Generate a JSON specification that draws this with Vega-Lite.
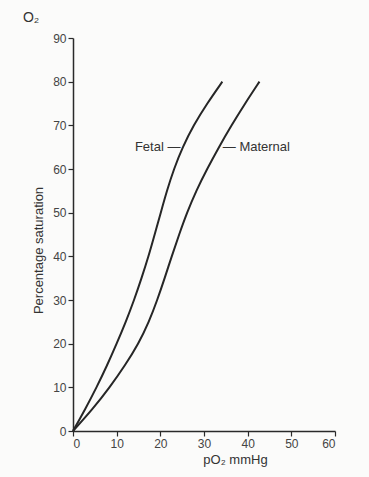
{
  "$schema": "https://vega.github.io/schema/vega-lite/v6.json",
  "autosize": "none",
  "width": 262,
  "height": 393,
  "padding": {"left": 73, "top": 38, "right": 34, "bottom": 46},
  "background": "#fbfbfa",
  "config": {
    "view": {"stroke": null},
    "axis": {
      "grid": false,
      "domainColor": "#2a2a2a",
      "domainWidth": 1.5,
      "tickColor": "#2a2a2a",
      "tickWidth": 1.2,
      "tickSize": 5,
      "labelFont": "Liberation Sans",
      "labelFontSize": 12,
      "labelColor": "#444444",
      "labelPadding": 2,
      "titleFont": "Liberation Sans",
      "titleFontSize": 13,
      "titleFontWeight": "normal",
      "titleColor": "#333333"
    }
  },
  "datasets": {
    "curves": [
      {"curve": "Fetal", "po2": 0, "sat": 0},
      {"curve": "Fetal", "po2": 2.8, "sat": 5},
      {"curve": "Fetal", "po2": 5.4, "sat": 10},
      {"curve": "Fetal", "po2": 7.8, "sat": 15},
      {"curve": "Fetal", "po2": 10.0, "sat": 20},
      {"curve": "Fetal", "po2": 12.1, "sat": 25},
      {"curve": "Fetal", "po2": 14.0, "sat": 30},
      {"curve": "Fetal", "po2": 15.7, "sat": 35},
      {"curve": "Fetal", "po2": 17.3, "sat": 40},
      {"curve": "Fetal", "po2": 18.7, "sat": 45},
      {"curve": "Fetal", "po2": 20.1, "sat": 50},
      {"curve": "Fetal", "po2": 21.5, "sat": 55},
      {"curve": "Fetal", "po2": 23.1, "sat": 60},
      {"curve": "Fetal", "po2": 25.1, "sat": 65},
      {"curve": "Fetal", "po2": 27.6, "sat": 70},
      {"curve": "Fetal", "po2": 30.7, "sat": 75},
      {"curve": "Fetal", "po2": 34.2, "sat": 80},
      {"curve": "Maternal", "po2": 0, "sat": 0},
      {"curve": "Maternal", "po2": 4.5, "sat": 5},
      {"curve": "Maternal", "po2": 8.4, "sat": 10},
      {"curve": "Maternal", "po2": 11.9, "sat": 15},
      {"curve": "Maternal", "po2": 15.0, "sat": 20},
      {"curve": "Maternal", "po2": 17.4, "sat": 25},
      {"curve": "Maternal", "po2": 19.3, "sat": 30},
      {"curve": "Maternal", "po2": 21.0, "sat": 35},
      {"curve": "Maternal", "po2": 22.6, "sat": 40},
      {"curve": "Maternal", "po2": 24.3, "sat": 45},
      {"curve": "Maternal", "po2": 26.1, "sat": 50},
      {"curve": "Maternal", "po2": 28.2, "sat": 55},
      {"curve": "Maternal", "po2": 30.7, "sat": 60},
      {"curve": "Maternal", "po2": 33.4, "sat": 65},
      {"curve": "Maternal", "po2": 36.3, "sat": 70},
      {"curve": "Maternal", "po2": 39.4, "sat": 75},
      {"curve": "Maternal", "po2": 42.7, "sat": 80}
    ],
    "labels": [
      {"label": "Fetal —", "po2": 24.6, "sat": 65, "side": "right"},
      {"label": "— Maternal", "po2": 34.3, "sat": 65, "side": "left"},
      {"label": "O₂", "po2": -9.6, "sat": 94.6, "side": "center"}
    ]
  },
  "layer": [
    {
      "data": {"name": "curves"},
      "mark": {"type": "line", "interpolate": "basis", "color": "#262626", "strokeWidth": 2},
      "encoding": {
        "x": {
          "field": "po2",
          "type": "quantitative",
          "scale": {"domain": [0, 60], "nice": false},
          "axis": {
            "values": [0, 10, 20, 30, 40, 50, 60],
            "title": "pO₂  mmHg",
            "titleX": 162,
            "titleY": 28,
            "titleAnchor": "middle",
            "titleAlign": "center",
            "titleBaseline": "middle"
          }
        },
        "y": {
          "field": "sat",
          "type": "quantitative",
          "scale": {"domain": [0, 90], "nice": false},
          "axis": {
            "values": [0, 10, 20, 30, 40, 50, 60, 70, 80, 90],
            "title": "Percentage saturation",
            "titleX": -35,
            "titleY": 212,
            "titleAngle": -90,
            "titleAlign": "center",
            "titleBaseline": "middle"
          }
        },
        "detail": {"field": "curve"}
      }
    },
    {
      "data": {"name": "labels"},
      "transform": [{"filter": "datum.side === 'right'"}],
      "mark": {"type": "text", "align": "right", "baseline": "middle", "font": "Liberation Sans", "fontSize": 13, "color": "#333333"},
      "encoding": {
        "x": {"field": "po2", "type": "quantitative"},
        "y": {"field": "sat", "type": "quantitative"},
        "text": {"field": "label"}
      }
    },
    {
      "data": {"name": "labels"},
      "transform": [{"filter": "datum.side === 'left'"}],
      "mark": {"type": "text", "align": "left", "baseline": "middle", "font": "Liberation Sans", "fontSize": 13, "color": "#333333"},
      "encoding": {
        "x": {"field": "po2", "type": "quantitative"},
        "y": {"field": "sat", "type": "quantitative"},
        "text": {"field": "label"}
      }
    },
    {
      "data": {"name": "labels"},
      "transform": [{"filter": "datum.side === 'center'"}],
      "mark": {"type": "text", "align": "center", "baseline": "middle", "font": "Liberation Sans", "fontSize": 14, "color": "#333333"},
      "encoding": {
        "x": {"field": "po2", "type": "quantitative"},
        "y": {"field": "sat", "type": "quantitative"},
        "text": {"field": "label"}
      }
    }
  ]
}
